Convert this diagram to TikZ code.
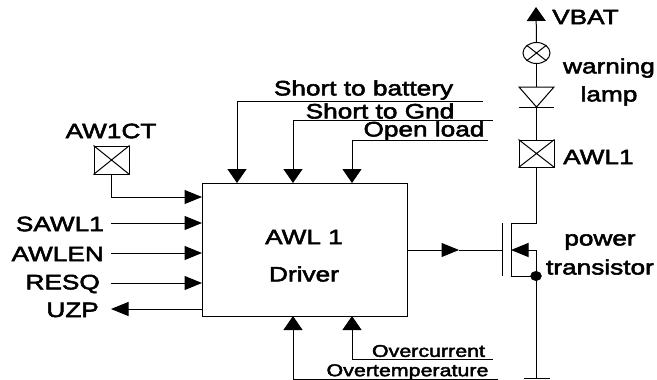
\documentclass[tikz,border=0pt]{standalone}
\usepackage{fontspec}
\usetikzlibrary{arrows.meta,shapes.geometric}
\newfontfamily\lab[FakeStretch=1.26,FakeBold=2.6]{Liberation Sans}
\tikzset{
  wire/.style={line width=1pt,line cap=butt},
  tip/.style={wire,-{Triangle[length=17.5pt,width=14pt]}},
  vtip/.style={wire,-{Triangle[length=14pt,width=19pt]}},
  lbl/.style={font=\lab\fontsize{20.8}{20.8}\selectfont,inner sep=0pt,anchor=center,yshift=-1pt},
  lbs/.style={font=\lab\fontsize{17}{17}\selectfont,inner sep=0pt,anchor=center,yshift=-1pt},
  block/.style={draw,line width=1pt,inner sep=0pt,minimum width=205pt,minimum height=133pt},
  xbox/.style={draw,line width=1pt,inner sep=0pt}
}
\begin{document}
\begin{tikzpicture}[x=1pt,y=-1pt,line join=miter]
\useasboundingbox (0,0) rectangle (657,380);
% main block
\node[block] (drv) at (304.5,249.5) {};
\node[lbl] (t1) at (304,236) {AWL 1};
\node[lbl] (t2) at (304,273) {Driver};
% left signals
\node[lbl] (aw) at (111,130) {AW1CT};
\node[xbox,minimum width=35pt,minimum height=28pt] (awbox) at (111.5,160) {};
\draw[wire] (awbox.north west)--(awbox.south east) (awbox.north east)--(awbox.south west);
\coordinate (p1) at (202,197);
\draw[tip] (awbox.south) |- (p1);
\node[lbl,anchor=east] (s) at (104,223) {SAWL1};
\node[lbl,anchor=east] (a) at (104,253) {AWLEN};
\node[lbl,anchor=east] (r) at (100,283) {RESQ};
\node[lbl,anchor=east] (u) at (99,309) {UZP};
\coordinate (s0) at (111,223); \coordinate (s1) at (202,223);
\coordinate (a0) at (111,253); \coordinate (a1) at (202,253);
\coordinate (r0) at (111,283); \coordinate (r1) at (202,283);
\coordinate (u0) at (111,309); \coordinate (u1) at (202,309);
\draw[tip] (s0)--(s1);
\draw[tip] (a0)--(a1);
\draw[tip] (r0)--(r1);
\draw[tip] (u1)--(u0);
% top diagnostics
\node[lbl] (sb) at (363.5,89) {Short to battery};
\node[lbl] (sg) at (380,110) {Short to Gnd};
\node[lbl] (ol) at (424,130) {Open load};
\coordinate (b0) at (483,101); \coordinate (b1) at (237,183);
\coordinate (g0) at (493,120); \coordinate (g1) at (293,183);
\coordinate (o0) at (488,140); \coordinate (o1) at (352,183);
\draw[vtip] (b0) -| (b1);
\draw[vtip] (g0) -| (g1);
\draw[vtip] (o0) -| (o1);
% bottom diagnostics
\node[lbs] (oc) at (428.5,350) {Overcurrent};
\node[lbs] (ot) at (407.5,371) {Overtemperature};
\coordinate (c0) at (493,359); \coordinate (c1) at (352,316);
\coordinate (e0) at (498,379); \coordinate (e1) at (293,316);
\draw[vtip] (c0) -| (c1);
\draw[vtip] (e0) -| (e1);
% supply branch
\coordinate (vb) at (536,7);
\coordinate (gb) at (536,379);
\node[lbl,anchor=west] (vt) at (552,16) {VBAT};
\node[draw,ellipse,line width=1pt,minimum width=27pt,minimum height=21pt,inner sep=0pt] (lamp) at (536.5,53) {};
\draw[wire] (lamp.north west)--(lamp.south east) (lamp.north east)--(lamp.south west);
\node[lbl] (w1) at (609,67) {warning};
\node[lbl] (w2) at (609,95) {lamp};
\coordinate (dl) at (519,87); \coordinate (dr) at (554,87); \coordinate (da) at (536.5,107);
\coordinate (bl) at (519,107); \coordinate (br) at (554,107);
\draw[wire] (dl)--(dr)--(da)--cycle;
\draw[wire] (bl)--(br);
\node[xbox,minimum width=35pt,minimum height=27pt] (awl) at (536.5,153.5) {};
\draw[wire] (awl.north west)--(awl.south east) (awl.north east)--(awl.south west);
\node[lbl,anchor=west] (awt) at (563,156) {AWL1};
\draw[vtip] (lamp.north) -- (vb);
\draw[wire] (lamp.south) -- (536.5,87);
\draw[wire] (da) -- (awl.north);
% transistor
\coordinate (gt) at (502,223); \coordinate (gbm) at (502,276);
\coordinate (gm) at (502,250);
\coordinate (ct) at (511,223); \coordinate (cb) at (511,276); \coordinate (cm) at (511,250);
\coordinate (d) at (536,223); \coordinate (sr) at (536,250); \coordinate (j) at (536,276);
\draw[wire] (gt)--(gbm);
\draw[wire] (awl.south) |- (ct) -- (cb) -- (j);
\draw[tip] (sr) -- (cm);
\draw[wire] (sr) -- (j);
\draw[wire] (j) -- (gb);
\node[fill=black,draw=black,ellipse,minimum width=11pt,minimum height=9.5pt,inner sep=0pt] (dot) at (j) {};
\coordinate (g0l) at (407,250); \coordinate (gmid) at (459,250);
\draw[tip] (g0l) -- (gmid);
\draw[wire] (gmid) -- (gm);
\coordinate (gl) at (524,378.5); \coordinate (gr) at (550,378.5);
\draw[wire] (gl)--(gr);
\node[lbl] (pw) at (600,241) {power};
\node[lbl] (tr) at (600,266) {transistor};
\end{tikzpicture}
\end{document}
